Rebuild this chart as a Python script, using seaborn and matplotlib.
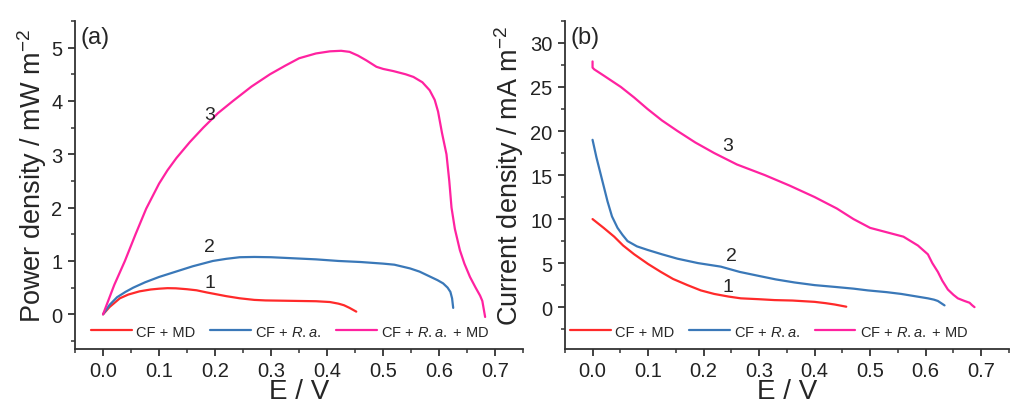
import numpy as np
import pandas as pd
import matplotlib
matplotlib.use('Agg')
import matplotlib.pyplot as plt
import seaborn as sns
from matplotlib.ticker import MultipleLocator

# power density curves (a)
e1_p = [0.0, 0.012, 0.03, 0.045, 0.065, 0.085, 0.10, 0.115, 0.13, 0.15, 0.167, 0.185, 0.20, 0.22,
        0.244, 0.27, 0.29, 0.32, 0.35, 0.38, 0.405, 0.42, 0.43, 0.44, 0.452]
p1 = [0.0, 0.14, 0.30, 0.37, 0.43, 0.465, 0.48, 0.49, 0.487, 0.47, 0.45, 0.41, 0.38, 0.34,
      0.30, 0.27, 0.26, 0.255, 0.25, 0.245, 0.23, 0.20, 0.17, 0.12, 0.05]
e2_p = [0.0, 0.012, 0.025, 0.04, 0.054, 0.075, 0.10, 0.13, 0.16, 0.196, 0.22, 0.244, 0.27, 0.30,
        0.34, 0.38, 0.42, 0.46, 0.50, 0.52, 0.548, 0.565, 0.583, 0.597, 0.607, 0.615, 0.62,
        0.623, 0.625]
p2 = [0.0, 0.18, 0.32, 0.42, 0.50, 0.60, 0.70, 0.80, 0.90, 1.00, 1.04, 1.07, 1.075, 1.07,
      1.05, 1.03, 1.00, 0.98, 0.95, 0.93, 0.86, 0.80, 0.71, 0.64, 0.58, 0.50, 0.42,
      0.30, 0.12]
e3_p = [0.0, 0.02, 0.039, 0.058, 0.077, 0.10, 0.115, 0.131, 0.155, 0.179, 0.205, 0.232, 0.265,
        0.298, 0.325, 0.35, 0.38, 0.405, 0.425, 0.44, 0.455, 0.47, 0.488, 0.50, 0.518, 0.54,
        0.554, 0.57, 0.583, 0.592, 0.598, 0.605, 0.613, 0.618, 0.622, 0.628, 0.637, 0.645,
        0.655, 0.665, 0.673, 0.677, 0.682]
p3 = [0.0, 0.55, 1.0, 1.5, 1.98, 2.45, 2.7, 2.93, 3.23, 3.5, 3.77, 4.0, 4.27,
      4.5, 4.66, 4.8, 4.89, 4.93, 4.94, 4.92, 4.85, 4.76, 4.64, 4.6, 4.56, 4.5,
      4.45, 4.35, 4.2, 4.02, 3.8, 3.4, 3.0, 2.5, 2.0, 1.6, 1.2, 0.95,
      0.7, 0.5, 0.35, 0.25, -0.05]

# current density curves (b)
e1_c = [0.0, 0.02, 0.039, 0.055, 0.075, 0.10, 0.123, 0.145, 0.171, 0.195, 0.219, 0.245, 0.267,
        0.30, 0.328, 0.36, 0.40, 0.42, 0.436, 0.457]
c1 = [10.0, 9.0, 8.0, 7.0, 6.0, 4.9, 4.0, 3.2, 2.5, 1.9, 1.5, 1.2, 1.0,
      0.9, 0.8, 0.75, 0.6, 0.45, 0.3, 0.05]
e2_c = [0.0, 0.007, 0.015, 0.021, 0.027, 0.035, 0.045, 0.054, 0.063, 0.08, 0.099, 0.125, 0.153,
        0.19, 0.231, 0.265, 0.303, 0.33, 0.364, 0.40, 0.436, 0.47, 0.496, 0.53, 0.556, 0.58,
        0.604, 0.615, 0.622, 0.628, 0.634]
c2 = [19.0, 17.0, 15.0, 13.5, 12.0, 10.3, 9.0, 8.2, 7.5, 6.9, 6.5, 6.0, 5.5,
      5.0, 4.6, 4.0, 3.5, 3.15, 2.8, 2.5, 2.3, 2.1, 1.9, 1.7, 1.5, 1.25,
      1.0, 0.85, 0.7, 0.45, 0.2]
e3_c = [0.0, 0.0, 0.003, 0.02, 0.051, 0.075, 0.099, 0.125, 0.153, 0.185, 0.219, 0.26, 0.31,
        0.355, 0.40, 0.44, 0.47, 0.50, 0.53, 0.56, 0.586, 0.604, 0.612, 0.622, 0.63, 0.64,
        0.65, 0.658, 0.67, 0.679, 0.684, 0.688]
c3 = [27.9, 27.2, 27.0, 26.3, 25.0, 23.8, 22.5, 21.2, 20.0, 18.7, 17.5, 16.2, 15.0,
      13.8, 12.5, 11.2, 10.0, 9.0, 8.5, 8.0, 7.0, 6.0, 5.0, 4.0, 3.0, 2.0,
      1.4, 1.0, 0.7, 0.5, 0.2, 0.0]

labels = ['CF + MD', 'CF + $\\it{R.a.}$', 'CF + $\\it{R.a.}$ + MD']
colors = ['#ff2a2a', '#3a78b8', '#ff22a0']

sns.set_style('ticks')
plt.rcParams['font.family'] = ['Liberation Sans', 'DejaVu Sans']
plt.rcParams['mathtext.fontset'] = 'custom'
plt.rcParams['mathtext.it'] = 'Liberation Sans:italic'
plt.rcParams['mathtext.rm'] = 'Liberation Sans'

fig = plt.figure(figsize=(10.14, 4.06), dpi=100)
ax1 = fig.add_axes([0.074, 0.138, 0.442, 0.808])
ax2 = fig.add_axes([0.557, 0.138, 0.438, 0.808])


def draw(ax, curves, ylim, ymaj, ymin, ylabel, tag, nums, leg_x):
    for (x, y), lab, col in zip(curves, labels, colors):
        df = pd.DataFrame({'E': x, 'v': y})
        sns.lineplot(data=df, x='E', y='v', ax=ax, color=col, lw=1.6,
                     label=lab, sort=False, estimator=None)
    ax.set_xlim(-0.05, 0.75)
    ax.set_ylim(*ylim)
    ax.xaxis.set_minor_locator(MultipleLocator(0.05))
    ax.yaxis.set_major_locator(MultipleLocator(ymaj))
    ax.yaxis.set_minor_locator(MultipleLocator(ymin))
    ax.set_xticks(np.arange(0, 0.71, 0.1))
    ax.set_xticklabels([f'{v:.1f}' for v in np.arange(0, 0.71, 0.1)])
    ax.tick_params(which='major', length=5, width=1.3, labelsize=14.5, color='#333333',
                   labelcolor='#222222', pad=4)
    ax.tick_params(which='minor', length=3, width=1.1, color='#333333')
    for s in ['top', 'right']:
        ax.spines[s].set_visible(False)
    for s in ['left', 'bottom']:
        ax.spines[s].set_linewidth(1.3)
        ax.spines[s].set_color('#333333')
    ax.set_xlabel('E / V', fontsize=20, labelpad=-2)
    ax.set_ylabel(ylabel, fontsize=19.5, labelpad=2)
    ax.text(0.012, 0.985, tag, transform=ax.transAxes, fontsize=17, va='top', ha='left')
    for (tx, ty, t) in nums:
        ax.text(tx, ty, t, fontsize=14, ha='center', va='center')
    ax.legend(loc='center', bbox_to_anchor=(leg_x, 0.053), ncol=3, frameon=False,
              fontsize=10.5, handlelength=2.8, handletextpad=0.3, columnspacing=1.0)


draw(ax1, [(e1_p, p1), (e2_p, p2), (e3_p, p3)], (-0.65, 5.5), 1, 0.5,
     'Power density / mW m$^{-2}$', '(a)',
     [(0.19, 0.6, '1'), (0.19, 1.28, '2'), (0.19, 3.75, '3')], 0.48)
draw(ax2, [(e1_c, c1), (e2_c, c2), (e3_c, c3)], (-4.75, 32.5), 5, 2.5,
     'Current density / mA m$^{-2}$', '(b)',
     [(0.243, 2.3, '1'), (0.25, 5.9, '2'), (0.243, 18.4, '3')], 0.46)
ax1.yaxis.set_label_coords(-0.058, 0.53)
ax2.yaxis.set_label_coords(-0.088, 0.53)

fig.savefig('out.png', dpi=100)
